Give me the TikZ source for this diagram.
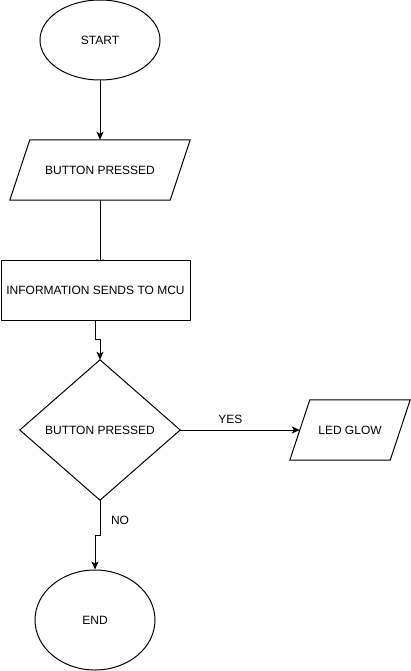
\documentclass[tikz,border=0pt]{standalone}
\usepackage{fontspec}
\setmainfont{Liberation Sans}
\usetikzlibrary{arrows.meta,calc,shapes.geometric,backgrounds}
\begin{document}
\begin{tikzpicture}[x=1pt,y=-1pt,
  every node/.style={font=\fontsize{12}{14}\selectfont, text=black},
  box/.style={draw, line width=1pt, fill=white, inner sep=0pt, minimum width=#1, minimum height=60pt},
  holder/.style={inner sep=0pt, minimum width=#1, minimum height=60pt},
  oval/.style={draw, ellipse, line width=1pt, fill=white, inner sep=0pt},
  flow/.style={line width=1pt, -{Stealth[length=8pt,width=7pt,inset=2pt]}},
  shapeline/.style={line width=1pt, fill=white},
  lbl/.style={inner sep=0pt}]
\useasboundingbox (0,0) rectangle (411,671);
% nodes
\node[oval, minimum width=120pt, minimum height=80pt] (start) at (100,40) {START};
\node[holder=180pt] (bp) at (100,170) {};
\draw[shapeline] ($(bp.north west)+(20,0)$) -- (bp.north east) -- ($(bp.south east)+(-20,0)$) -- (bp.south west) -- cycle;
\node at (bp) {BUTTON PRESSED};
\node[box=189pt] (info) at (95.5,290) {INFORMATION SENDS TO MCU};
\node[inner sep=0pt, minimum width=160pt, minimum height=140pt] (dec) at (100,430) {};
\draw[shapeline] (dec.north) -- (dec.east) -- (dec.south) -- (dec.west) -- cycle;
\node at (dec) {BUTTON PRESSED};
\node[holder=120pt] (led) at (350,430) {};
\draw[shapeline] ($(led.north west)+(20,0)$) -- (led.north east) -- ($(led.south east)+(-20,0)$) -- (led.south west) -- cycle;
\node at (led) {LED GLOW};
\node[oval, minimum width=120pt, minimum height=100pt] (end) at (95,620) {END};
% connectors
\begin{scope}[on background layer]
\draw[flow] (start.south) -- (bp.north);
\draw[flow] (bp.south) -- ($(bp.south)+(0,67)$);
\draw[flow] (info.south) -- ++(0,19) -| (dec.north);
\draw[flow] (dec.east) -- ($(led.west)+(10,0)$) node[lbl, pos=0.42, above=6pt] {YES};
\draw[flow] (dec.south) -- ++(0,35) -| (end.north);
\end{scope}
\node[lbl] (no) at (120,520) {NO};
\end{tikzpicture}
\end{document}
